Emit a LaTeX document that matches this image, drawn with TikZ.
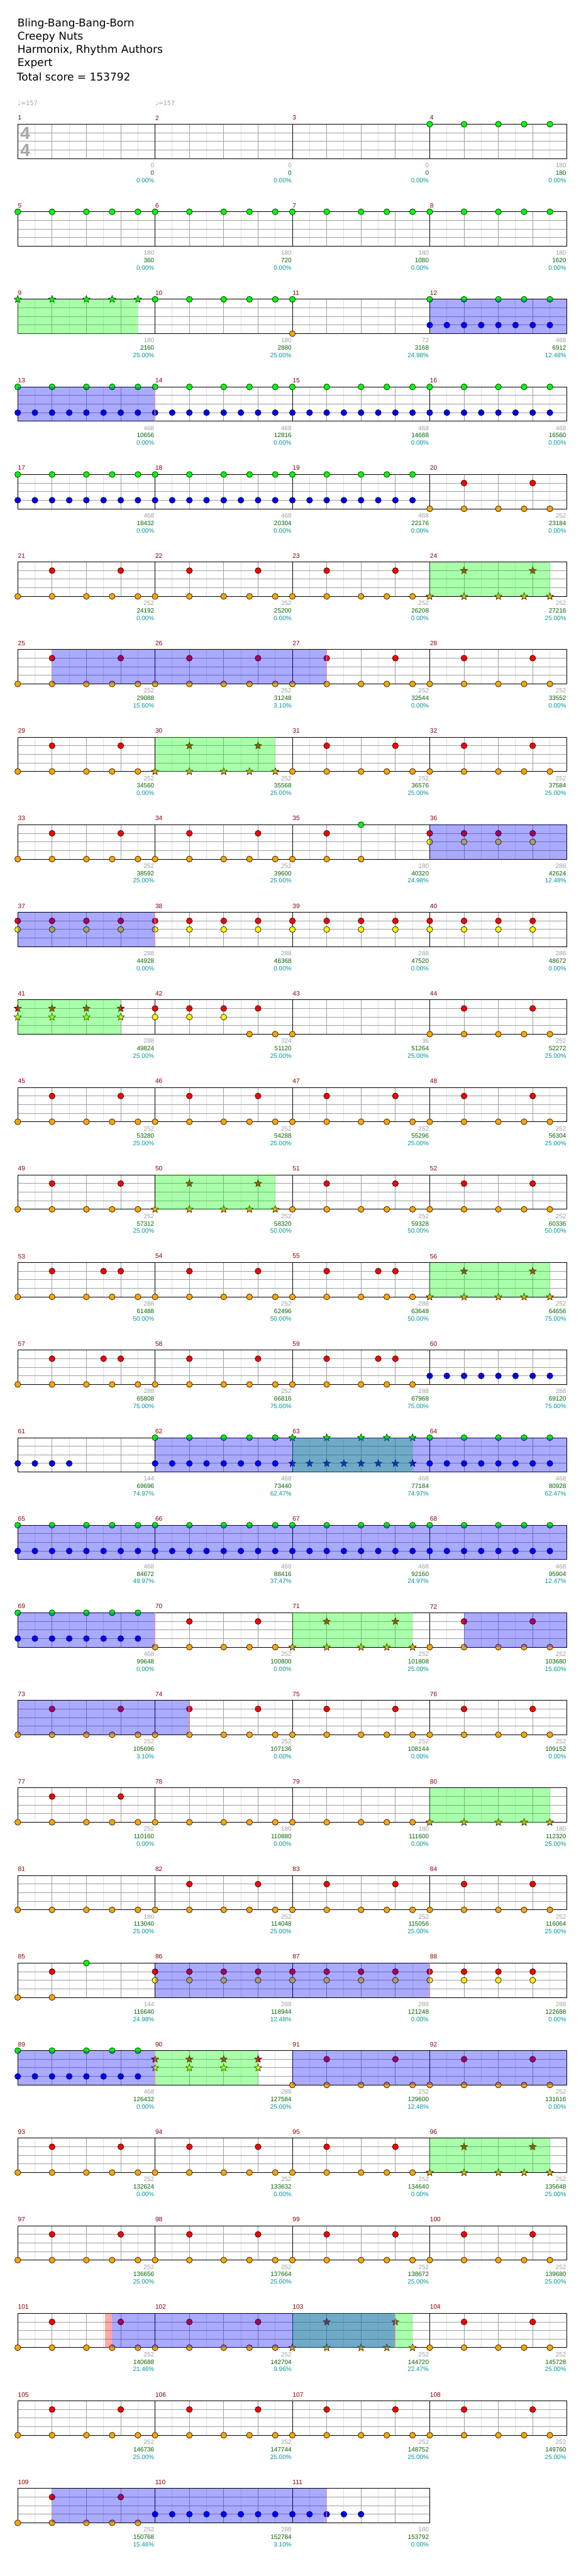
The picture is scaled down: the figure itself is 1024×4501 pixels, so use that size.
\documentclass[tikz,border=0pt]{standalone}
\usepackage{fontspec}
\setmainfont{DejaVu Sans}
\newfontfamily\scorefont{Liberation Sans}
\usepackage{tikz}
\usetikzlibrary{shapes.geometric}

\definecolor{kick}{RGB}{255,165,0}
\definecolor{barnum}{RGB}{139,0,0}
\definecolor{gridlight}{RGB}{222,222,222}
\definecolor{griddark}{RGB}{160,160,160}
\definecolor{scoregray}{RGB}{160,160,160}
\definecolor{scoregreen}{RGB}{0,100,0}
\definecolor{scoreteal}{RGB}{0,150,150}
\definecolor{odline}{RGB}{255,140,140}

% beat patterns
\def\fiveA{0,1,2,2.75,3.5}
\def\bE{0,0.5,...,3.5}
\def\qR{0,1,2,3}

% one staff row: row index (from 0), number of measures
\newcommand{\staffrow}[2]{%
  \pgfmathsetmacro\ty{217+153*#1}%
  \pgfmathsetmacro\xr{31+240*#2}%
  \pgfmathtruncatemacro\nn{8*#2-1}%
  \pgfmathtruncatemacro\nl{#2-1}%
  \foreach \k in {1,3,...,\nn} {\draw[gridlight] ({31+30*\k},\ty) -- ++(0,60);}
  \foreach \k in {2,4,...,\nn} {\draw[griddark] ({31+30*\k},\ty) -- ++(0,60);}
  \foreach \h in {15,30,45} {\draw[griddark] (31,{\ty+\h}) -- ({\xr},{\ty+\h});}
  \draw (31,\ty) rectangle ({\xr},{\ty+60});
  \foreach \j in {0,...,\nl} {%
    \pgfmathtruncatemacro\mn{4*#1+\j+1}%
    \draw ({31+240*\j},\ty) -- ++(0,60);
    \node[barlabel] at ({31+240*\j},{\ty-11}) {\mn};
  }%
}

% score texts under a row: row index, list gray/green/percent
\newcommand{\scorerow}[2]{%
  \pgfmathsetmacro\ty{217+153*#1}%
  \foreach \g/\c/\p [count=\j] in {#2} {%
    \node[scoretxt, scoregray] at ({30+240*\j},{\ty+72}) {\g};
    \node[scoretxt, scoregreen] at ({30+240*\j},{\ty+85}) {\c};
    \node[scoretxt, scoreteal] at ({30+240*\j},{\ty+98}) {\p\%};
  }%
}

% notes: measure, lane (0 top .. 4 bottom), colour, beats
\newcommand{\nts}[4]{%
  \pgfmathtruncatemacro\rw{(#1-1)/4}%
  \pgfmathtruncatemacro\cl{#1-1-4*\rw}%
  \edef\blist{#4}%
  \foreach \b in \blist {\node[note, fill=#3] at ({31+240*\cl+60*\b},{217+153*\rw+15*#2}) {};}%
}
\newcommand{\sts}[4]{%
  \pgfmathtruncatemacro\rw{(#1-1)/4}%
  \pgfmathtruncatemacro\cl{#1-1-4*\rw}%
  \edef\blist{#4}%
  \foreach \b in \blist {\node[starnote, fill=#3] at ({31+240*\cl+60*\b},{217+153*\rw+15*#2}) {};}%
}

% shaded phrase: measure, start beat, length in beats, colour
\newcommand{\phr}[4]{%
  \pgfmathtruncatemacro\rw{(#1-1)/4}%
  \pgfmathtruncatemacro\cl{#1-1-4*\rw}%
  \fill[#4, fill opacity=0.333] ({31+240*\cl+60*#2},{217+153*\rw}) rectangle ++({60*#3},60);%
}
\newcommand{\odend}[2]{%
  \pgfmathtruncatemacro\rw{(#1-1)/4}%
  \pgfmathtruncatemacro\cl{#1-1-4*\rw}%
  \draw[odline] ({30.5+240*\cl+60*#2},{217+153*\rw}) -- ++(0,60);%
}

\begin{document}
\begin{tikzpicture}[x=0.75pt, y=-0.75pt, line width=0.75pt,
    title/.style={anchor=west, inner sep=0pt, font=\fontsize{14}{16}\selectfont},
    barlabel/.style={anchor=west, inner sep=0pt, text=barnum, font=\scorefont\fontsize{8.4}{10}\selectfont},
    scoretxt/.style={anchor=east, inner sep=0pt, font=\scorefont\fontsize{8.2}{10}\selectfont},
    tempo/.style={anchor=west, inner sep=0pt, text=scoregray, font=\fontsize{8}{10}\selectfont},
    timesig/.style={inner sep=0pt, text=black!35, font=\scorefont\bfseries\fontsize{23}{23}\selectfont},
    note/.style={circle, draw=black, line width=0.5pt, inner sep=0pt, minimum size=7.8pt},
    starnote/.style={star, star points=5, star point ratio=2.3, draw=black, line width=0.45pt, inner sep=0pt, minimum size=10pt}
  ]
  \fill[white] (0,0) rectangle (1024,4501);
  \useasboundingbox (0,0) rectangle (1024,4501);

  % Header
  \node[title] (song) at (30,42) {Bling-Bang-Bang-Born};
  \node[title] (artist) at (30,65) {Creepy Nuts};
  \node[title] (charter) at (30,88) {Harmonix, Rhythm Authors};
  \node[title] (level) at (30,111) {Expert};
  \node[title] (total) at (29,134) {Total score = 153792};
  \node[tempo] (tempo1) at (31,180) {♩=157};
  \node[tempo] (tempo2) at (271,180) {♩=157};

  % Staff rows
  \foreach \r in {0,...,26} {\staffrow{\r}{4}}
  \staffrow{27}{3}
  \node[timesig] (sigtop) at (44,233) {4};
  \node[timesig] (sigbot) at (44,263) {4};

  % Notes
  \foreach \m in {4,...,8,10} {\nts{\m}{0}{green}{\fiveA}}
  \sts{9}{0}{green}{\fiveA}
  \nts{11}{0}{green}{0} \nts{11}{4}{kick}{0}
  \foreach \m in {12,...,19,62,64,65,66,67,68,69,89} {\nts{\m}{0}{green}{\fiveA} \nts{\m}{3}{blue}{\bE}}
  \foreach \m in {20,21,22,23,25,26,27,28,29,31,32,33,34,44,45,46,47,48,49,51,52,54,58,70,72,73,74,75,76,77,82,83,84,
      91,92,93,94,95,97,98,99,100,101,102,104,105,106,107,108,109}
    {\nts{\m}{4}{kick}{\fiveA} \nts{\m}{1}{red}{1,3}}
  \foreach \m in {24,30,50,56,71,96,103} {\sts{\m}{4}{kick}{\fiveA} \sts{\m}{1}{red}{1,3}}
  \foreach \m in {53,55,57,59} {\nts{\m}{4}{kick}{\fiveA} \nts{\m}{1}{red}{1,2.5,3}}
  \foreach \m in {78,79,81} {\nts{\m}{4}{kick}{\fiveA}}
  \sts{80}{4}{kick}{\fiveA}
  \nts{35}{4}{kick}{0,1,2} \nts{35}{1}{red}{1} \nts{35}{0}{green}{2}
  \foreach \m in {36,...,40,86,87,88} {\nts{\m}{1}{red}{\qR} \nts{\m}{2}{yellow}{\qR}}
  \sts{41}{1}{red}{\qR} \sts{41}{2}{yellow}{\qR}
  \sts{90}{1}{red}{\qR} \sts{90}{2}{yellow}{\qR}
  \nts{42}{1}{red}{\qR} \nts{42}{2}{yellow}{0,1,2} \nts{42}{4}{kick}{2.75,3.5}
  \nts{43}{4}{kick}{0}
  \nts{60}{3}{blue}{\bE}
  \nts{61}{3}{blue}{0,0.5,1,1.5}
  \nts{110}{3}{blue}{\bE}
  \nts{111}{3}{blue}{0,0.5,1,1.5,2}
  \sts{63}{0}{green}{\fiveA} \sts{63}{3}{blue}{\bE}
  \nts{85}{4}{kick}{0,1} \nts{85}{1}{red}{1} \nts{85}{0}{green}{2}

  % Star power phrases
  \foreach \m in {9,24,30,50,56,63,71,80,96,103} {\phr{\m}{0}{3.5}{green}}
  \phr{41}{0}{3}{green}
  \phr{90}{0}{3}{green}

  % Overdrive
  \phr{12}{0}{4}{blue} \phr{13}{0}{4}{blue} \odend{14}{0}
  \phr{25}{1}{8}{blue} \odend{27}{1}
  \phr{36}{0}{4}{blue} \phr{37}{0}{4}{blue} \odend{38}{0}
  \phr{62}{0}{12}{blue} \phr{65}{0}{16}{blue} \phr{69}{0}{4}{blue} \odend{70}{0}
  \phr{72}{1}{3}{blue} \phr{73}{0}{5}{blue} \odend{74}{1}
  \phr{86}{0}{8}{blue} \odend{88}{0}
  \phr{89}{0}{4}{blue} \odend{90}{0}
  \phr{91}{0}{8}{blue}
  \phr{101}{2.55}{0.2}{red}
  \phr{101}{2.75}{8.25}{blue} \odend{103}{3}
  \phr{109}{1}{8}{blue} \odend{111}{1}

  % Scores
  \scorerow{0}{0/0/0.00, 0/0/0.00, 0/0/0.00, 180/180/0.00}
  \scorerow{1}{180/360/0.00, 180/720/0.00, 180/1080/0.00, 180/1620/0.00}
  \scorerow{2}{180/2160/25.00, 180/2880/25.00, 72/3168/24.98, 468/6912/12.48}
  \scorerow{3}{468/10656/0.00, 468/12816/0.00, 468/14688/0.00, 468/16560/0.00}
  \scorerow{4}{468/18432/0.00, 468/20304/0.00, 468/22176/0.00, 252/23184/0.00}
  \scorerow{5}{252/24192/0.00, 252/25200/0.00, 252/26208/0.00, 252/27216/25.00}
  \scorerow{6}{252/29088/15.60, 252/31248/3.10, 252/32544/0.00, 252/33552/0.00}
  \scorerow{7}{252/34560/0.00, 252/35568/25.00, 252/36576/25.00, 252/37584/25.00}
  \scorerow{8}{252/38592/25.00, 252/39600/25.00, 180/40320/24.98, 288/42624/12.48}
  \scorerow{9}{288/44928/0.00, 288/46368/0.00, 288/47520/0.00, 288/48672/0.00}
  \scorerow{10}{288/49824/25.00, 324/51120/25.00, 36/51264/25.00, 252/52272/25.00}
  \scorerow{11}{252/53280/25.00, 252/54288/25.00, 252/55296/25.00, 252/56304/25.00}
  \scorerow{12}{252/57312/25.00, 252/58320/50.00, 252/59328/50.00, 252/60336/50.00}
  \scorerow{13}{288/61488/50.00, 252/62496/50.00, 288/63648/50.00, 252/64656/75.00}
  \scorerow{14}{288/65808/75.00, 252/66816/75.00, 288/67968/75.00, 288/69120/75.00}
  \scorerow{15}{144/69696/74.97, 468/73440/62.47, 468/77184/74.97, 468/80928/62.47}
  \scorerow{16}{468/84672/49.97, 468/88416/37.47, 468/92160/24.97, 468/95904/12.47}
  \scorerow{17}{468/99648/0.00, 252/100800/0.00, 252/101808/25.00, 252/103680/15.60}
  \scorerow{18}{252/105696/3.10, 252/107136/0.00, 252/108144/0.00, 252/109152/0.00}
  \scorerow{19}{252/110160/0.00, 180/110880/0.00, 180/111600/0.00, 180/112320/25.00}
  \scorerow{20}{180/113040/25.00, 252/114048/25.00, 252/115056/25.00, 252/116064/25.00}
  \scorerow{21}{144/116640/24.98, 288/118944/12.48, 288/121248/0.00, 288/122688/0.00}
  \scorerow{22}{468/126432/0.00, 288/127584/25.00, 252/129600/12.48, 252/131616/0.00}
  \scorerow{23}{252/132624/0.00, 252/133632/0.00, 252/134640/0.00, 252/135648/25.00}
  \scorerow{24}{252/136656/25.00, 252/137664/25.00, 252/138672/25.00, 252/139680/25.00}
  \scorerow{25}{252/140688/21.46, 252/142704/9.96, 252/144720/22.47, 252/145728/25.00}
  \scorerow{26}{252/146736/25.00, 252/147744/25.00, 252/148752/25.00, 252/149760/25.00}
  \scorerow{27}{252/150768/15.46, 288/152784/3.10, 180/153792/0.00}
\end{tikzpicture}
\end{document}
